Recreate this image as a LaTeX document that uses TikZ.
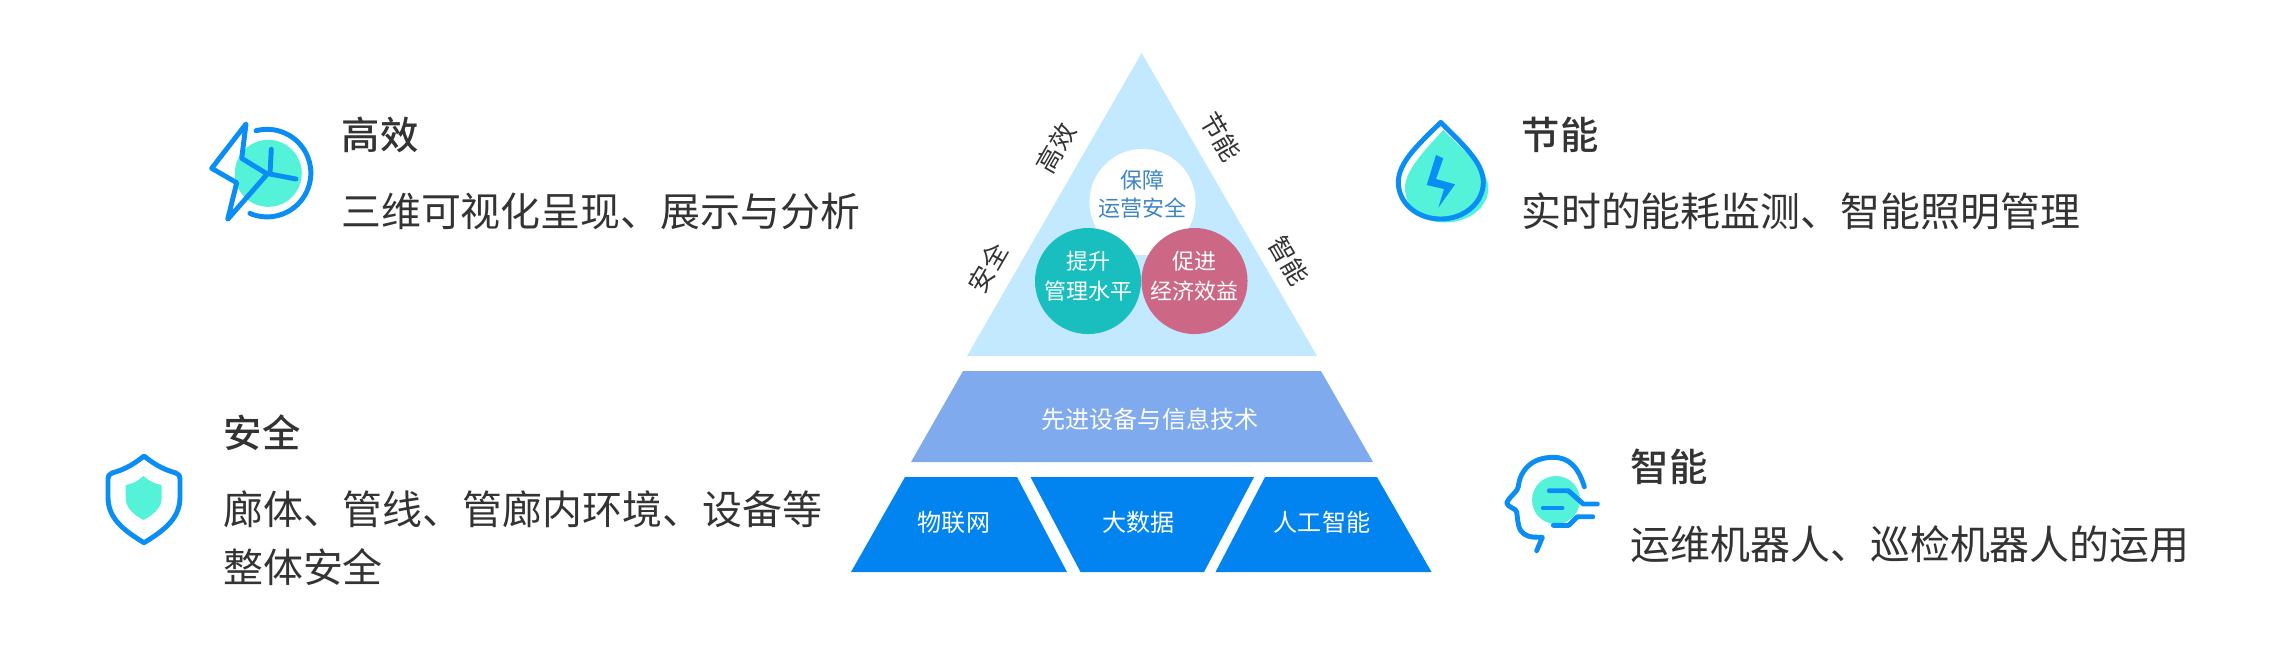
\documentclass[tikz,border=0pt]{standalone}
\usepackage{fontspec}
\setmainfont{Noto Sans CJK SC}
\newfontfamily\headfont{Noto Sans CJK SC Medium}
\usetikzlibrary{positioning}
\definecolor{skyfill}{HTML}{C2E9FF}
\definecolor{bandfill}{HTML}{7FAAEE}
\definecolor{basefill}{HTML}{0284F0}
\definecolor{iconline}{HTML}{0A8EF5}
\definecolor{iconfill}{HTML}{54F2D8}
\definecolor{tealfill}{HTML}{19BFBF}
\definecolor{rosefill}{HTML}{CC6885}
\definecolor{safeblue}{HTML}{3D85C6}
\definecolor{inktext}{HTML}{333333}
\begin{document}
\begin{tikzpicture}[x=0.01cm, y=-0.01cm,
    headtext/.style={anchor=west, text=inktext, inner sep=0pt, font=\headfont\fontsize{10.9pt}{13pt}\selectfont},
    bodytext/.style={anchor=west, text=inktext, inner sep=0pt, align=left, font=\fontsize{11.35pt}{16.5pt}\selectfont},
    sidetext/.style={text=inktext, inner sep=0pt, font=\fontsize{7.3pt}{9pt}\selectfont},
    ringtext/.style={text=white, inner sep=0pt, align=center, font=\fontsize{6.25pt}{8.6pt}\selectfont},
    bandtext/.style={text=white, inner sep=0pt, font=\fontsize{6.85pt}{9pt}\selectfont},
    ring/.style={circle, minimum size=1.06cm, inner sep=0pt},
    iconstroke/.style={draw=iconline, line width=1.4pt, line cap=round, line join=round}]
    \useasboundingbox (0,0) rectangle (2280,650);

    % pyramid
    \fill[skyfill] (1141.6,53) -- (1317,356) -- (967,356) -- cycle;
    \fill[bandfill] (963,371) -- (1321,371) -- (1373,462) -- (911,462) -- cycle;
    \fill[basefill] (905,477) -- (1017,477) -- (1067,572) -- (851,572) -- cycle;
    \fill[basefill] (1030.5,477) -- (1254,477) -- (1204,572) -- (1080.5,572) -- cycle;
    \fill[basefill] (1265,477) -- (1377,477) -- (1431.5,572) -- (1215.5,572) -- cycle;

    \node[ring, fill=white] (safe) at (1142.5,202) {};
    \node[ring, fill=tealfill] (manage) at (1088,281) {};
    \node[ring, fill=rosefill] (profit) at (1194.5,281) {};
    \node[ringtext, text=safeblue, font=\fontsize{6.25pt}{7.9pt}\selectfont] at (1142.5,194) {保障\\运营安全};
    \node[ringtext] at (1088,276) {提升\\管理水平};
    \node[ringtext] at (1194.5,276) {促进\\经济效益};

    \node[bandtext] at (1150,419) {先进设备与信息技术};
    \node[bandtext] at (954,522) {物联网};
    \node[bandtext] at (1138.5,522) {大数据};
    \node[bandtext] at (1322,522) {人工智能};

    \node[sidetext, rotate=60] at (1056,148) {高效};
    \node[sidetext, rotate=60] at (988,268) {安全};
    \node[sidetext, rotate=-60] at (1221,137) {节能};
    \node[sidetext, rotate=-60] at (1288.5,261) {智能};

    % captions
    \node[headtext] (gaoxiao) at (341,135) {高效};
    \node[bodytext] (gaoxiaotext) at (340.5,211) {三维可视化呈现、展示与分析};
    \node[headtext] (anquan) at (223,433) {安全};
    \node[bodytext] (anquantext) at (222.5,538) {廊体、管线、管廊内环境、设备等\\整体安全};
    \node[headtext] (jieneng) at (1521,135) {节能};
    \node[bodytext] (jienengtext) at (1520.5,211) {实时的能耗监测、智能照明管理};
    \node[headtext] (zhineng) at (1630,467) {智能};
    \node[bodytext] (zhinengtext) at (1630,544) {运维机器人、巡检机器人的运用};

    % clock icon
    \fill[iconfill] (268.3,173.3) circle (33.5);
    \draw[iconstroke] (256,130.7) arc[start angle=-104.6, end angle=113, radius=43.8];
    \draw[iconstroke] (246,124) -- (211.7,168.3) -- (236.7,182.7) -- (227.7,219.3) -- (267.3,174) -- (241.7,158.3) -- cycle;
    \draw[iconstroke] (271.3,149.3) -- (270,174) -- (296,179);

    % shield icon
    \draw[iconstroke] (144,456) .. controls (155,465) and (165,470) .. (176,473) .. controls (179,474) and (180,476) .. (180,479) -- (180,497)
        .. controls (180,518) and (165,530) .. (144,542.7) .. controls (123,530) and (108,518) .. (108,497) -- (108,479)
        .. controls (108,476) and (109,474) .. (112,473) .. controls (123,470) and (133,465) .. (144,456) -- cycle;
    \fill[iconfill] (143.5,476) .. controls (149,481) and (155,484) .. (161.7,485) -- (161.7,498)
        .. controls (161.7,508) and (153,515) .. (143.5,520) .. controls (134,515) and (125.7,508) .. (125.7,498) -- (125.7,485)
        .. controls (132,484) and (138,481) .. (143.5,476) -- cycle;

    % drop icon
    \fill[iconfill] (1443.3,130) .. controls (1465,152) and (1488.3,170) .. (1488.3,188) .. controls (1488.3,208) and (1468,222.5) .. (1445,222.5)
        .. controls (1422,222.5) and (1405,208) .. (1405,188) .. controls (1405,170) and (1425,150) .. (1443.3,130) -- cycle;
    \draw[iconstroke] (1440.7,122.3) .. controls (1462,144) and (1483.3,162) .. (1483.3,182.3) .. controls (1483.3,203) and (1464,219) .. (1440.7,219)
        .. controls (1417,219) and (1398.3,203) .. (1398.3,182.3) .. controls (1398.3,162) and (1419,144) .. (1440.7,122.3) -- cycle;
    \fill[iconline] (1436,155) -- (1443.3,158.3) -- (1436,179) -- (1455,184.3) -- (1438.3,207.7) -- (1444,189) -- (1426.7,185) -- cycle;

    % head icon
    \fill[iconfill] (1556,500) circle (24);
    \draw[iconstroke] (1584.3,486.7) .. controls (1578,466) and (1568,457.3) .. (1553.3,457.3) .. controls (1532,457.3) and (1520,470) .. (1518.3,486.7)
        .. controls (1518,491) and (1510,496) .. (1506.7,502.7) .. controls (1508,508) and (1516,508) .. (1516.7,512) .. controls (1518,522) and (1518,530) .. (1524,534)
        .. controls (1530,538) and (1536,537) .. (1542.3,537.3) -- (1536.7,550.7);
    \draw[iconstroke] (1549.3,490.7) -- (1568.3,490.7) -- (1583.3,504) -- (1597.3,504);
    \draw[iconstroke] (1543.3,508) -- (1562,508);
    \draw[iconstroke] (1553.3,525.3) -- (1568.7,525.3) -- (1577.3,516.7) -- (1592.7,516.7);
\end{tikzpicture}
\end{document}
